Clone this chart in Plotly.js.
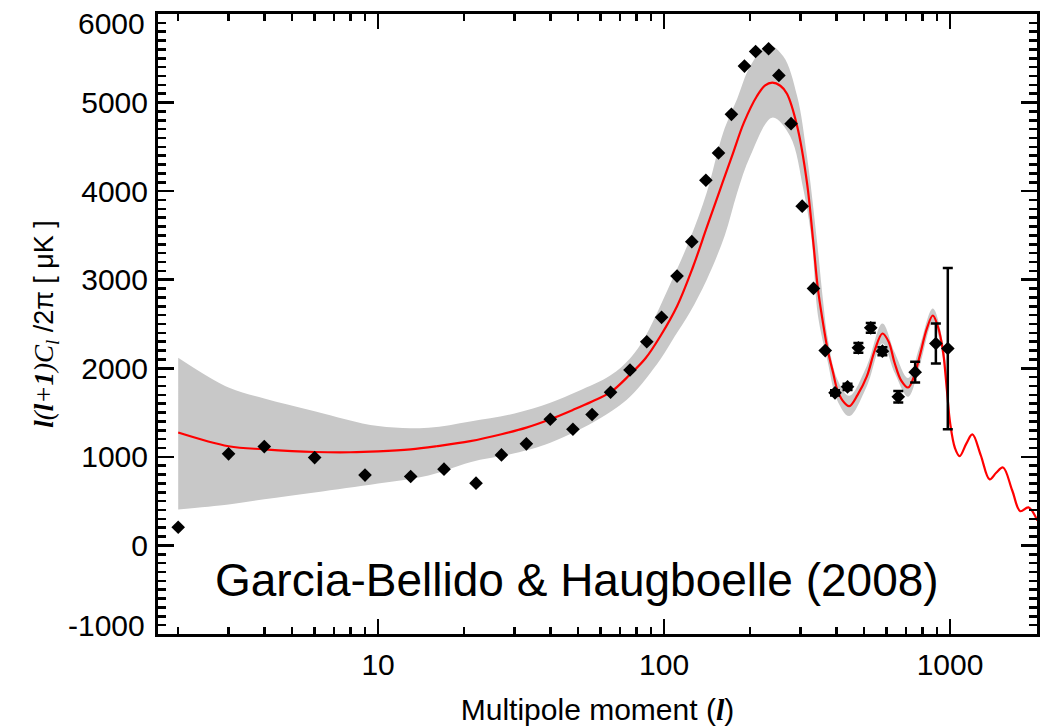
<!DOCTYPE html>
<html>
<head>
<meta charset="utf-8">
<script src="https://cdn.plot.ly/plotly-3.0.1.min.js"></script>
<style>html,body{margin:0;padding:0;background:#fff;}#chart{width:1049px;height:726px;}</style>
</head>
<body>
<div id="chart"></div>
<script>
// Measured band powers (multipole l, value in microK^2)
var pointL = [2, 3, 4, 6, 9, 13, 17, 22, 27, 33, 40, 48, 56, 65, 76, 87, 98, 111, 125, 140, 155, 172, 191, 209, 232, 252, 278, 304, 333, 366, 396, 438, 478, 528, 580, 659, 755, 892, 982];
var pointY = [205, 1034, 1116, 992, 794, 778, 861, 703, 1022, 1147, 1425, 1312, 1478, 1729, 1981, 2300, 2575, 3041, 3430, 4123, 4431, 4867, 5412, 5577, 5608, 5307, 4762, 3830, 2902, 2200, 1723, 1791, 2231, 2457, 2193, 1678, 1956, 2280, 2223];
var pointErr = [0, 0, 0, 0, 0, 0, 0, 0, 0, 0, 0, 0, 0, 0, 0, 0, 0, 0, 0, 0, 0, 0, 0, 0, 0, 0, 0, 0, 0, 0, 30, 35, 55, 55, 45, 65, 117, 226, 910];

// Best-fit model curve
var curveL = [2, 3, 4, 5, 6, 8, 10, 13, 16, 21, 27, 33, 40, 48, 56, 65, 76, 86, 97, 111, 126, 141, 157, 174, 190, 211, 225, 239, 255, 269, 292, 316, 333, 345, 358, 373, 390, 403, 420, 444, 475, 512, 545, 580, 610, 640, 675, 713, 750, 783, 830, 870, 905, 943, 975, 1000, 1040, 1080, 1140, 1197, 1280, 1375, 1450, 1532, 1650, 1760, 1880, 2020];
var curveY = [1275, 1120, 1085, 1065, 1055, 1052, 1062, 1085, 1120, 1177, 1255, 1330, 1425, 1530, 1625, 1730, 1930, 2110, 2362, 2701, 3138, 3590, 4018, 4424, 4770, 5071, 5190, 5225, 5190, 5100, 4733, 4097, 3400, 2900, 2550, 2212, 1950, 1761, 1640, 1572, 1700, 1911, 2200, 2393, 2300, 2060, 1860, 1783, 1920, 2137, 2450, 2596, 2480, 2212, 1750, 1388, 1100, 1008, 1150, 1253, 1020, 745, 820, 880, 620, 387, 429, 280];

// Uncertainty band (upper and lower edges)
var bandUpL = [2, 3, 4, 6, 10, 15, 21, 30, 40, 50, 65, 76, 86, 105, 123, 141, 161, 180, 200, 231, 261, 292, 316, 342, 360, 373, 403, 444, 512, 580, 640, 713, 783, 870, 943, 1000];
var bandUpY = [2120, 1783, 1660, 1516, 1347, 1330, 1400, 1490, 1610, 1740, 1920, 2110, 2362, 2950, 3454, 3984, 4661, 5040, 5410, 5650, 5523, 5071, 4394, 3454, 2750, 2350, 1880, 1690, 2030, 2506, 2180, 1890, 2250, 2675, 2300, 1450];
var bandLoL = [2, 3, 4, 6, 10, 15, 21, 30, 40, 60, 76, 97, 109, 123, 141, 163, 180, 200, 239, 276, 307, 328, 345, 373, 403, 444, 512, 580, 640, 713, 783, 870, 943, 1000];
var bandLoY = [406, 463, 520, 598, 700, 790, 940, 1040, 1160, 1440, 1680, 2100, 2362, 2630, 3000, 3500, 3980, 4394, 4830, 4620, 4018, 3454, 2600, 2080, 1640, 1460, 1800, 2280, 1950, 1680, 2030, 2520, 2130, 1330];

var xTickVals = [10, 100, 1000];
var xTickText = ['10', '100', '1000'];
var yTickVals = [0, 1000, 2000, 3000, 4000, 5000];
var yTickText = ['0', '1000', '2000', '3000', '4000', '5000'];
var yEndVals = [-1000, 6000];
var yEndText = ['-1000', '6000'];

var annotationText = 'Garcia-Bellido & Haugboelle (2008)';

// minor log ticks
var xMinor = [];
[1, 10, 100, 1000].forEach(function (d) { for (var k = 2; k <= 9; k++) xMinor.push(k * d); });

// closed polygon for band: upper edge then reversed lower edge
var bandX = bandUpL.concat(bandLoL.slice().reverse());
var bandY = bandUpY.concat(bandLoY.slice().reverse());

var traces = [
  {
    x: bandX, y: bandY, type: 'scatter', mode: 'lines', fill: 'toself',
    fillcolor: 'rgb(200,200,200)', line: {width: 0, color: 'rgb(200,200,200)', shape: 'spline', smoothing: 1},
    hoverinfo: 'skip', showlegend: false
  },
  {
    x: curveL, y: curveY, type: 'scatter', mode: 'lines',
    line: {color: '#ff0000', width: 2.2, shape: 'spline', smoothing: 1},
    showlegend: false
  },
  {
    x: pointL, y: pointY, type: 'scatter', mode: 'markers',
    marker: {symbol: 'diamond', size: 10.5, color: '#000000'},
    error_y: {type: 'data', array: pointErr, visible: true, color: '#000000', thickness: 2.5, width: 5},
    showlegend: false
  }
];

var axisFont = {family: '"Liberation Sans", Arial, Helvetica, sans-serif', size: 30, color: '#000'};

// end labels of the y axis sit slightly inside the frame, as in the original
var annotations = [{
  text: annotationText, xref: 'paper', yref: 'paper', x: 0.4767, y: 0.087,
  xanchor: 'center', yanchor: 'middle', showarrow: false,
  font: {family: axisFont.family, size: 46, color: '#000'}
}];
yEndVals.forEach(function (v, i) {
  annotations.push({
    text: yEndText[i], xref: 'paper', yref: 'y', x: 0, y: v,
    xanchor: 'right', yanchor: 'middle', xshift: -11, yshift: v > 0 ? -9 : 9,
    showarrow: false, font: axisFont
  });
});

var layout = {
  width: 1049, height: 726,
  margin: {l: 158, r: 12, t: 14, b: 92},
  paper_bgcolor: '#ffffff', plot_bgcolor: '#ffffff',
  showlegend: false,
  font: axisFont,
  xaxis: {
    type: 'log', range: [0.2304, 3.304], autorange: false,
    showline: true, linecolor: '#000', linewidth: 3, mirror: 'ticks',
    ticks: 'inside', ticklen: 15, tickwidth: 2.5, tickcolor: '#000',
    tickmode: 'array', tickvals: xTickVals, ticktext: xTickText,
    ticklabelstandoff: 2, ticklabeloverflow: 'allow',
    minor: {tickmode: 'array', tickvals: xMinor, ticks: 'inside', ticklen: 7, tickwidth: 2.5, tickcolor: '#000', showgrid: false},
    showgrid: false, zeroline: false,
    tickfont: axisFont,
    title: {text: 'Multipole moment (<span style="font-family:\'Liberation Serif\',serif"><b><i>l</i></b></span>)', font: {family: axisFont.family, size: 30, color: '#000'}, standoff: 22}
  },
  yaxis: {
    range: [-1000, 6000], autorange: false,
    showline: true, linecolor: '#000', linewidth: 3, mirror: 'ticks',
    ticks: 'inside', ticklen: 16, tickwidth: 2.5, tickcolor: '#000',
    tickmode: 'array', tickvals: yTickVals, ticktext: yTickText,
    ticklabelstandoff: 1, ticklabeloverflow: 'allow',
    minor: {dtick: 100, ticks: 'inside', ticklen: 8, tickwidth: 2.5, tickcolor: '#000', showgrid: false},
    showgrid: false, zeroline: false,
    tickfont: axisFont,
    title: {
      text: '<span style="font-family:\'Liberation Serif\',serif"><b><i>l</i></b><i>(</i><b><i>l</i></b><i>+</i><b><i>1</i></b><i>)C<sub>l</sub></i></span> /2π [ μK ]',
      font: {family: axisFont.family, size: 27, color: '#000'}, standoff: 20
    }
  },
  annotations: annotations
};

Plotly.newPlot('chart', traces, layout, {displayModeBar: false, staticPlot: true});
</script>
</body>
</html>
